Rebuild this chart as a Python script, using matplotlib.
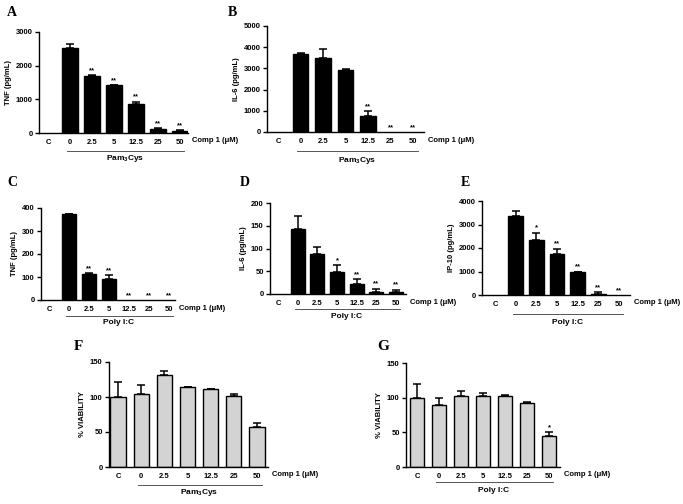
import numpy as np
import matplotlib
matplotlib.use('Agg')
import matplotlib.pyplot as plt
import matplotlib.transforms as mtransforms

plt.rcParams['font.family'] = ['Liberation Sans', 'DejaVu Sans']
plt.rcParams['mathtext.default'] = 'regular'

# data
doses = ['C', '0', '2.5', '5', '12.5', '25', '50']

tnf_pam = [0, 2520, 1690, 1420, 850, 105, 60]
tnf_pam_err = [0, 130, 30, 10, 80, 40, 20]
tnf_pam_sig = ['', '', '**', '**', '**', '**', '**']

il6_pam = [0, 3700, 3480, 2920, 740, 0, 0]
il6_pam_err = [0, 40, 420, 50, 240, 0, 0]
il6_pam_sig = ['', '', '', '', '**', '**', '**']

tnf_pic = [0, 374, 113, 90, 0, 0, 0]
tnf_pic_err = [0, 2, 4, 19, 0, 0, 0]
tnf_pic_sig = ['', '', '**', '**', '**', '**', '**']

il6_pic = [0, 143, 87, 49, 21, 5, 4.5]
il6_pic_err = [0, 28, 17, 14, 11, 7, 5]
il6_pic_sig = ['', '', '', '*', '**', '**', '**']

ip10_pic = [0, 3370, 2340, 1740, 970, 60, 0]
ip10_pic_err = [0, 200, 310, 230, 30, 70, 0]
ip10_pic_sig = ['', '', '*', '**', '**', '**', '**']

via_pam = [100, 104, 131, 114, 111, 102, 57]
via_pam_err = [22, 13, 6, 0.5, 0.5, 2, 6]
via_pam_sig = ['', '', '', '', '', '', '']

via_pic = [99, 89, 103, 103, 103, 93, 44]
via_pic_err = [21, 11, 7, 4, 1, 1, 6]
via_pic_sig = ['', '', '', '', '', '', '*']

W, H = 683, 504
fig = plt.figure(figsize=(W / 100, H / 100), dpi=100)

def panel(box, vals, errs, sig, ylabel, ymax, ystep, group,
          line_dy, label_dy, face='black', width=0.7):
    l, r, t, b, xc, x50 = box
    ax = fig.add_axes([l / W, 1 - b / H, (r - l) / W, (b - t) / H])
    s = (x50 - xc) / 6.0
    x = np.arange(len(doses))
    vals = np.array(vals, dtype=float)
    errs = np.array(errs, dtype=float)
    nz = vals > 0
    ax.bar(x[nz], vals[nz], width=width, color=face, edgecolor='black', linewidth=1.0, zorder=2)
    has_err = errs > 0
    ax.errorbar(x[has_err], vals[has_err], yerr=[np.zeros(has_err.sum()), errs[has_err]],
                fmt='none', ecolor='black', elinewidth=1.1, capsize=2.8, capthick=1.1, zorder=1)
    for xi, v, e, st in zip(x, vals, errs, sig):
        if st:
            ax.annotate(st, xy=(xi, v + e), xytext=(0, 1), textcoords='offset pixels',
                        ha='center', va='bottom', fontsize=5.5, fontweight='bold')
    ax.set_xlim(-(xc - l) / s, 6 + (r - x50) / s)
    ax.set_ylim(0, ymax)
    ax.set_yticks(np.arange(0, ymax + 1, ystep))
    ax.set_xticks(x)
    ax.set_xticklabels(doses)
    ax.spines['top'].set_visible(False)
    ax.spines['right'].set_visible(False)
    for sp in ('left', 'bottom'):
        ax.spines[sp].set_linewidth(1.0)
    ax.tick_params(axis='x', length=0, pad=4, labelsize=5.5)
    ax.tick_params(axis='y', length=3, width=1.0, pad=1.5, labelsize=5.5)
    for lab in ax.get_xticklabels() + ax.get_yticklabels():
        lab.set_fontweight('bold')
    ax.set_ylabel(ylabel, fontsize=5.5, fontweight='bold', labelpad=3)
    ax.annotate('Comp 1 (\u03bcM)', xy=(1, 0), xycoords='axes fraction',
                xytext=(4, -8), textcoords='offset pixels', ha='left', va='center',
                fontsize=5.5, fontweight='bold')
    # treatment group underline + label
    base = mtransforms.blended_transform_factory(ax.transData, ax.transAxes)
    tr_line = base + mtransforms.ScaledTranslation(0, -line_dy / 100, fig.dpi_scale_trans)
    tr_lab = base + mtransforms.ScaledTranslation(0, -label_dy / 100, fig.dpi_scale_trans)
    ax.plot([0.85, 6.2], [0, 0], color='#555555', linewidth=0.7, transform=tr_line, clip_on=False)
    ax.text(3.5, 0, group, transform=tr_lab, ha='center', va='center',
            fontsize=6, fontweight='bold')
    return ax

panel((39, 188, 32, 133, 48, 180), tnf_pam, tnf_pam_err, tnf_pam_sig,
      'TNF (pg/mL)', 3000, 1000, 'Pam$_3$Cys', 18, 26)
panel((267, 424, 26, 132, 278, 413), il6_pam, il6_pam_err, il6_pam_sig,
      'IL-6 (pg/mL)', 5000, 1000, 'Pam$_3$Cys', 19, 28)
panel((41, 175, 208, 300, 49, 169), tnf_pic, tnf_pic_err, tnf_pic_sig,
      'TNF (pg/mL)', 400, 100, 'Poly I:C', 16, 23)
panel((270, 406, 203, 294, 278, 396), il6_pic, il6_pic_err, il6_pic_sig,
      'IL-6 (pg/mL)', 200, 50, 'Poly I:C', 15, 23)
panel((482, 630, 201, 295, 495, 619), ip10_pic, ip10_pic_err, ip10_pic_sig,
      'IP-10 (pg/mL)', 4000, 1000, 'Poly I:C', 19, 27)
panel((109, 268, 362, 467, 118, 257), via_pam, via_pam_err, via_pam_sig,
      '% VIABILITY', 150, 50, 'Pam$_3$Cys', 18, 26, face='#d3d3d3', width=0.66)
panel((406, 560, 363, 467, 417, 549), via_pic, via_pic_err, via_pic_sig,
      '% VIABILITY', 150, 50, 'Poly I:C', 15, 23, face='#d3d3d3', width=0.66)

# panel letters
letters = [('A', 12, 13, 10), ('B', 232, 13, 10), ('C', 12, 183, 10), ('D', 245, 183, 10),
           ('E', 465, 183, 10), ('F', 78, 347, 11), ('G', 383, 347, 11)]
for txt, px, py, fs in letters:
    fig.text(px / W, 1 - py / H, txt, ha='center', va='center', fontsize=fs,
             fontweight='bold', family=['Liberation Serif', 'DejaVu Serif'])

fig.savefig('out.png', dpi=100)
